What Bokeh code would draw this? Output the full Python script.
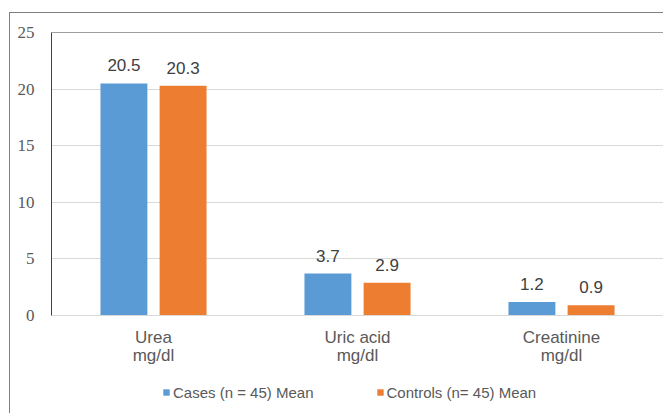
from bokeh.plotting import figure
from bokeh.layouts import column
from bokeh.models import (Range1d, LinearAxis, Legend, LegendItem,
                          ColumnDataSource, Span, FixedTicker)
from bokeh.transform import dodge
from bokeh.embed import file_html
from bokeh.resources import INLINE
from bokeh.core.properties import value

categories = ["Urea", "Uric acid", "Creatinine"]
units = ["mg/dl", "mg/dl", "mg/dl"]
cases = [20.5, 3.7, 1.2]
controls = [20.3, 2.9, 0.9]
series_names = ["Cases (n = 45) Mean", "Controls (n= 45) Mean"]
y_ticks = [0, 5, 10, 15, 20, 25]

BLUE = "#5B9BD5"
ORANGE = "#ED7D31"
GRAY = "#595959"
SERIF = "'Liberation Serif', 'Times New Roman', serif"

# each category occupies one unit of the x scale; its centre is at index + 0.5
pos = [i + 0.5 for i in range(len(categories))]

src = ColumnDataSource(dict(
    pos=pos,
    cases=cases,
    controls=controls,
    cases_lbl=[f"{v:.1f}" for v in cases],
    controls_lbl=[f"{v:.1f}" for v in controls],
))

p = figure(x_range=Range1d(0, len(categories)), y_range=Range1d(0, 25),
           width=653, height=356, output_backend="svg", toolbar_location=None,
           min_border_left=41, min_border_right=0, min_border_top=19,
           min_border_bottom=54)
p.outline_line_color = None
p.background_fill_color = "white"
p.border_fill_color = "white"

r1 = p.vbar(x=dodge("pos", -0.145), top="cases", width=0.23,
            source=src, fill_color=BLUE, line_color=None)
r2 = p.vbar(x=dodge("pos", 0.145), top="controls", width=0.23,
            source=src, fill_color=ORANGE, line_color=None)

for col, off in (("cases", -0.145), ("controls", 0.145)):
    p.text(x=dodge("pos", off), y=col, text=col + "_lbl",
           source=src, text_align="center", text_baseline="bottom", y_offset=-12,
           text_font=value("Liberation Sans"), text_font_size="17px",
           text_color="#404040")

# y axis
p.yaxis.ticker = FixedTicker(ticks=y_ticks)
p.yaxis.major_label_text_font = SERIF
p.yaxis.major_label_text_font_size = "17px"
p.yaxis.major_label_text_color = GRAY
p.yaxis.major_tick_line_color = None
p.yaxis.minor_tick_line_color = None
p.yaxis.axis_line_color = "#404040"
p.yaxis.major_label_standoff = 11

# x axis: category names
xa = p.xaxis[0]
xa.ticker = FixedTicker(ticks=pos)
xa.major_label_overrides = {t: c for t, c in zip(pos, categories)}
xa.major_label_text_font = "Liberation Sans"
xa.major_label_text_font_size = "17px"
xa.major_label_text_color = GRAY
xa.major_tick_line_color = None
xa.minor_tick_line_color = None
xa.axis_line_color = "#d9d9d9"
xa.major_label_standoff = 6

# second row of labels: units
unit_axis = LinearAxis(ticker=FixedTicker(ticks=pos),
                       major_label_overrides={t: u for t, u in zip(pos, units)},
                       major_label_text_font="Liberation Sans",
                       major_label_text_font_size="17px",
                       major_label_text_color=GRAY,
                       major_tick_line_color=None, minor_tick_line_color=None,
                       axis_line_color=None, major_label_standoff=-10)
p.add_layout(unit_axis, "below")

p.xgrid.grid_line_color = None
p.ygrid.grid_line_color = "#d9d9d9"
p.ygrid.ticker = FixedTicker(ticks=y_ticks)

right_axis = LinearAxis(ticker=FixedTicker(ticks=[]), major_tick_line_color=None,
                        minor_tick_line_color=None, axis_line_color="#404040",
                        major_label_standoff=0)
p.add_layout(right_axis, "right")
p.add_layout(Span(location=25, dimension="width", line_color="#404040", line_width=1))

# legend strip: a second figure whose frame fills it, holding the legend
lf = figure(x_range=p.x_range, y_range=Range1d(100, 200), width=653, height=44,
            output_backend="svg", toolbar_location=None,
            x_axis_type=None, y_axis_type=None,
            min_border_left=0, min_border_right=0, min_border_top=0,
            min_border_bottom=0)
lf.outline_line_color = None
lf.grid.visible = False
lf.background_fill_color = "white"
lf.border_fill_color = "white"
l1 = lf.vbar(x="pos", top="cases", width=0.23, source=src,
             fill_color=BLUE, line_color=None)
l2 = lf.vbar(x="pos", top="controls", width=0.23, source=src,
             fill_color=ORANGE, line_color=None)

legend = Legend(items=[LegendItem(label=series_names[0], renderers=[l1]),
                       LegendItem(label=series_names[1], renderers=[l2])],
                orientation="horizontal", location=(111, 11),
                padding=0, margin=0, spacing=62, label_standoff=3,
                label_height=20, glyph_width=8, glyph_height=8,
                border_line_color=None, background_fill_alpha=0,
                label_text_font="Liberation Sans",
                label_text_font_size="15px", label_text_color=GRAY)
lf.add_layout(legend, "center")

layout = column(p, lf, spacing=0)
layout.styles = {"margin-left": "9px", "margin-top": "12px",
                 "border-left": "1px solid #7f7f7f", "border-top": "1px solid #7f7f7f"}

open("out.html", "w").write(file_html(layout, INLINE))
